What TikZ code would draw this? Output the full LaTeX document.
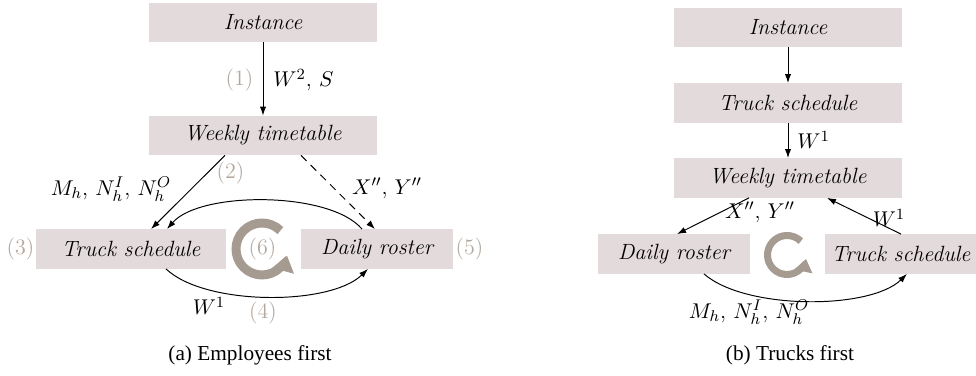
\documentclass[tikz,border=0pt]{standalone}
\usepackage{fontspec}
\newfontfamily\capfont{Liberation Serif}
\usetikzlibrary{arrows.meta,calc}
\definecolor{boxfill}{RGB}{226,218,219}
\definecolor{lblgray}{RGB}{180,168,158}
\definecolor{cyc}{RGB}{166,155,145}
\tikzset{
  box/.style={fill=boxfill, minimum height=20pt, inner sep=0pt, font=\fontsize{11.3}{13}\selectfont\itshape},
  lbl/.style={text=lblgray, inner sep=0pt, font=\fontsize{11.3}{13}\selectfont},
  mlbl/.style={inner sep=0pt, font=\fontsize{11.3}{13}\selectfont},
  arr/.style={-{Latex[length=4.6pt,width=3.2pt]}, line width=0.5pt},
  capstyle/.style={inner sep=0pt, font=\capfont\fontsize{10.9}{12}\selectfont},
  cyclearc/.style={draw=cyc, line cap=butt},
}
\begin{document}
\begin{tikzpicture}[x=0.5123pt, y=-0.5123pt]
\useasboundingbox (0,0) rectangle (976,376);
% ---------- (a) Employees first ----------
\node[box, minimum width=116.8pt] (inst) at (263,22.5) {Instance};
\node[box, minimum width=116.8pt] (wk) at (263,135.5) {Weekly timetable};
\node[box, minimum width=97.3pt] (ts) at (131,249) {Truck schedule};
\node[box, minimum width=77.9pt] (dr) at (377,249) {Daily roster};

\draw[arr] (inst.south) -- (wk.north);
\node[lbl] (l1) at (239.5,80) {(1)};
\node[mlbl, anchor=west] (m1) at (273,80) {$W^2$, $S$};

\coordinate (wkl) at ($(wk.south)+(-38,0)$);
\coordinate (wkr) at ($(wk.south)+(38,0)$);
\coordinate (tst) at ($(ts.north)+(20,0)$);
\coordinate (drt) at ($(dr.north)+(-2,0)$);
\draw[arr] (wkl) -- (tst);
\draw[arr, dash pattern=on 4pt off 3pt] (wkr) -- (drt);

\coordinate (drt2) at ($(dr.north)+(-15,0)$);
\coordinate (tst2) at ($(ts.north)+(36,0)$);
\draw[arr] (drt2) .. controls (330,191) and (200,191) .. (tst2);
\coordinate (tsb) at ($(ts.south)+(35,0)$);
\coordinate (drb) at ($(dr.south)+(-9,0)$);
\draw[arr] (tsb) .. controls (205,306) and (330,306) .. (drb);

\node[lbl] (l2) at (230.5,173) {(2)};
\node[mlbl] (m2) at (111,189) {$M_h$, $N_h^I$, $N_h^O$};
\node[mlbl] (m3) at (387,188) {$X''$, $Y''$};
\node[lbl] (l3) at (20.5,249) {(3)};
\node[lbl] (l5) at (469.5,249) {(5)};
\node[mlbl] (m4) at (209,306) {$W^1$};
\node[lbl] (l4) at (263,313) {(4)};

\draw[cyclearc, line width=4.6pt, -{Triangle[length=8pt,width=11pt]}]
  ($(262,249)+(-45:26)$) arc[start angle=-45, end angle=-345, radius=26];
\node[lbl] (l6) at (262.5,249) {(6)};

\node[capstyle] (capa) at (250,355) {(a) Employees first};

% ---------- (b) Trucks first ----------
\node[box, minimum width=116.8pt] (inst2) at (788,27.5) {Instance};
\node[box, minimum width=116.8pt] (ts2) at (788,103) {Truck schedule};
\node[box, minimum width=116.8pt] (wk2) at (788,178) {Weekly timetable};
\node[box, minimum width=77.9pt] (dr2) at (674,254) {Daily roster};
\node[box, minimum width=77.9pt] (tr2) at (901,254) {Truck schedule};

\draw[arr] (inst2.south) -- (ts2.north);
\draw[arr] (ts2.south) -- (wk2.north);
\node[mlbl, anchor=west] (n1) at (797,140) {$W^1$};

\coordinate (wk2l) at ($(wk2.south)+(-39,0)$);
\coordinate (wk2r) at ($(wk2.south)+(39,0)$);
\coordinate (dr2t) at ($(dr2.north)+(3,0)$);
\draw[arr] (wk2l) -- (dr2t);
\draw[arr] (tr2.north) -- (wk2r);
\node[mlbl] (n2) at (760,212) {$X''$, $Y''$};
\node[mlbl] (n3) at (889,218) {$W^1$};

\coordinate (dr2b) at ($(dr2.south)+(30,0)$);
\coordinate (tr2b) at ($(tr2.south)+(6,0)$);
\draw[arr] (dr2b) .. controls (745,310) and (870,310) .. (tr2b);
\node[mlbl] (n4) at (749,312) {$M_h$, $N_h^I$, $N_h^O$};

\draw[cyclearc, line width=3.6pt, -{Triangle[length=6.5pt,width=9pt]}]
  ($(787,255)+(-45:19.5)$) arc[start angle=-45, end angle=-348, radius=19.5];

\node[capstyle] (capb) at (790,355) {(b) Trucks first};
\end{tikzpicture}
\end{document}
